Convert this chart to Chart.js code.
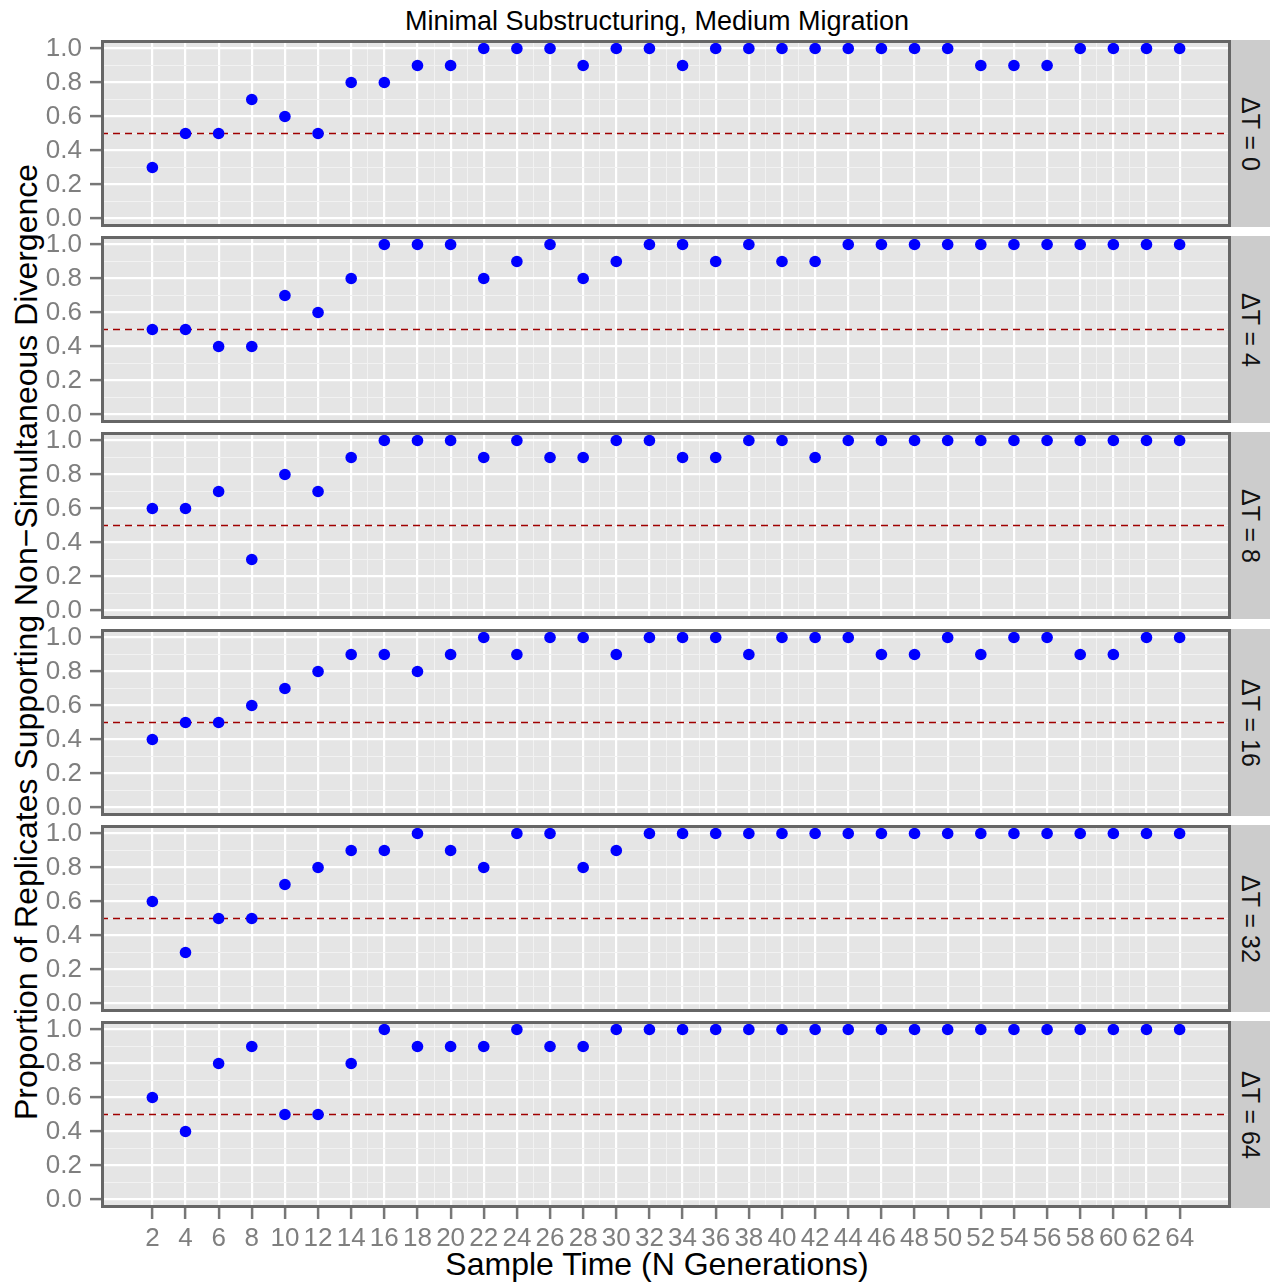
<!DOCTYPE html>
<html>
<head>
<meta charset="utf-8">
<title>Minimal Substructuring, Medium Migration</title>
<script src="https://cdn.jsdelivr.net/npm/chart.js@4.4.1/dist/chart.umd.min.js"></script>
<style>
  body { margin: 0; background: #fff; }
  #page { position: relative; width: 1274px; height: 1288px; overflow: hidden;
          font-family: "Liberation Sans", Arial, sans-serif; color: #000; }
  #page canvas { position: absolute; left: 0; }
  .txt { position: absolute; white-space: nowrap; text-align: center; }
  .strip { position: absolute; left: 1231px; width: 39px; background: #cccccc;
           display: flex; align-items: center; justify-content: center; }
  .strip span { writing-mode: vertical-rl; font-size: 25px; white-space: nowrap; color: #111; }
</style>
</head>
<body>
<div id="page">
  <div class="txt" id="title" style="left:357px; width:600px; top:8px; font-size:27px; line-height:27px;">Minimal Substructuring, Medium Migration</div>
  <div class="txt" id="xtitle" style="left:357px; width:600px; top:1248px; font-size:32px; line-height:32px;">Sample Time (N Generations)</div>
  <div class="txt" id="ytitle" style="left:-524px; width:1100px; top:626px; font-size:32px; line-height:32px; transform:rotate(-90deg);">Proportion of Replicates Supporting Non−Simultaneous Divergence</div>
</div>
<script>
// sample times on the x axis, one facet per delta T
const sampleTimes = [2, 4, 6, 8, 10, 12, 14, 16, 18, 20, 22, 24, 26, 28, 30, 32,
                     34, 36, 38, 40, 42, 44, 46, 48, 50, 52, 54, 56, 58, 60, 62, 64];
const deltaT = [0, 4, 8, 16, 32, 64];

// proportion of replicates supporting non-simultaneous divergence
const propDT0  = [0.3, 0.5, 0.5, 0.7, 0.6, 0.5, 0.8, 0.8, 0.9, 0.9, 1.0, 1.0, 1.0, 0.9, 1.0, 1.0,
                  0.9, 1.0, 1.0, 1.0, 1.0, 1.0, 1.0, 1.0, 1.0, 0.9, 0.9, 0.9, 1.0, 1.0, 1.0, 1.0];
const propDT4  = [0.5, 0.5, 0.4, 0.4, 0.7, 0.6, 0.8, 1.0, 1.0, 1.0, 0.8, 0.9, 1.0, 0.8, 0.9, 1.0,
                  1.0, 0.9, 1.0, 0.9, 0.9, 1.0, 1.0, 1.0, 1.0, 1.0, 1.0, 1.0, 1.0, 1.0, 1.0, 1.0];
const propDT8  = [0.6, 0.6, 0.7, 0.3, 0.8, 0.7, 0.9, 1.0, 1.0, 1.0, 0.9, 1.0, 0.9, 0.9, 1.0, 1.0,
                  0.9, 0.9, 1.0, 1.0, 0.9, 1.0, 1.0, 1.0, 1.0, 1.0, 1.0, 1.0, 1.0, 1.0, 1.0, 1.0];
const propDT16 = [0.4, 0.5, 0.5, 0.6, 0.7, 0.8, 0.9, 0.9, 0.8, 0.9, 1.0, 0.9, 1.0, 1.0, 0.9, 1.0,
                  1.0, 1.0, 0.9, 1.0, 1.0, 1.0, 0.9, 0.9, 1.0, 0.9, 1.0, 1.0, 0.9, 0.9, 1.0, 1.0];
const propDT32 = [0.6, 0.3, 0.5, 0.5, 0.7, 0.8, 0.9, 0.9, 1.0, 0.9, 0.8, 1.0, 1.0, 0.8, 0.9, 1.0,
                  1.0, 1.0, 1.0, 1.0, 1.0, 1.0, 1.0, 1.0, 1.0, 1.0, 1.0, 1.0, 1.0, 1.0, 1.0, 1.0];
const propDT64 = [0.6, 0.4, 0.8, 0.9, 0.5, 0.5, 0.8, 1.0, 0.9, 0.9, 0.9, 1.0, 0.9, 0.9, 1.0, 1.0,
                  1.0, 1.0, 1.0, 1.0, 1.0, 1.0, 1.0, 1.0, 1.0, 1.0, 1.0, 1.0, 1.0, 1.0, 1.0, 1.0];
const series = [propDT0, propDT4, propDT8, propDT16, propDT32, propDT64];

// axis breaks
const yTicks = [0.0, 0.2, 0.4, 0.6, 0.8, 1.0];
const yMinor = [0.1, 0.3, 0.5, 0.7, 0.9];
const xMinor = [15, 19, 21, 25, 29, 33, 35, 39, 41, 59, 61];
const threshold = 0.5;

const FONT = '"Liberation Sans", Arial, sans-serif';
const AXIS_GREY = '#7f7f7f';
const PAD = 26;          // room above/below each panel for the end tick labels
const PANEL_H = 187;
const PANEL_PITCH = 196.2;

const isMinorX = new Set(xMinor);
const isMinorY = new Set(yMinor);

const panelDecor = {
  id: 'panelDecor',
  beforeDraw(chart) {
    const { ctx, chartArea: a } = chart;
    ctx.save();
    ctx.fillStyle = '#e5e5e5';
    ctx.fillRect(a.left, a.top, a.right - a.left, a.bottom - a.top);
    ctx.restore();
  },
  beforeDatasetsDraw(chart) {
    const { ctx, chartArea: a, scales } = chart;
    const py = scales.y.getPixelForValue(threshold);
    ctx.save();
    ctx.strokeStyle = '#a00000';
    ctx.lineWidth = 1.6;
    ctx.setLineDash([7, 5]);
    ctx.beginPath();
    ctx.moveTo(a.left, py);
    ctx.lineTo(a.right, py);
    ctx.stroke();
    ctx.restore();
  },
  afterDraw(chart) {
    const { ctx, chartArea: a } = chart;
    ctx.save();
    ctx.strokeStyle = '#666666';
    ctx.lineWidth = 3;
    ctx.strokeRect(a.left + 1.5, a.top + 1.5, a.right - a.left - 3, a.bottom - a.top - 3);
    ctx.restore();
  }
};

const page = document.getElementById('page');

deltaT.forEach((dt, i) => {
  const last = i === deltaT.length - 1;
  const panelTop = Math.round(40 + i * PANEL_PITCH);
  const height = PAD + PANEL_H + (last ? 45 : PAD);

  const canvas = document.createElement('canvas');
  canvas.width = 1274;
  canvas.height = height;
  canvas.style.top = (panelTop - PAD) + 'px';
  page.appendChild(canvas);

  const strip = document.createElement('div');
  strip.className = 'strip';
  strip.style.top = panelTop + 'px';
  strip.style.height = PANEL_H + 'px';
  strip.innerHTML = '<span>ΔT = ' + dt + '</span>';
  page.appendChild(strip);

  new Chart(canvas.getContext('2d'), {
    type: 'scatter',
    data: {
      datasets: [{
        data: sampleTimes.map((t, k) => ({ x: t, y: series[i][k] })),
        backgroundColor: '#0000ff',
        borderWidth: 0,
        pointRadius: 5.8,
        pointHoverRadius: 5.8
      }]
    },
    options: {
      responsive: false,
      animation: false,
      devicePixelRatio: 1,
      layout: { padding: { top: PAD, bottom: last ? 0 : PAD, left: 0, right: 43 } },
      plugins: { legend: { display: false }, tooltip: { enabled: false } },
      scales: {
        x: {
          type: 'linear',
          min: -1.1,
          max: 67.1,
          afterBuildTicks: axis => {
            axis.ticks = sampleTimes.concat(xMinor).sort((a, b) => a - b).map(v => ({ value: v }));
          },
          afterFit: axis => { axis.height = last ? 45 : 0; },
          border: { display: false },
          grid: {
            color: c => (c.tick && isMinorX.has(c.tick.value)) ? '#f2f2f2' : '#ffffff',
            lineWidth: c => (c.tick && isMinorX.has(c.tick.value)) ? 1 : 2.2,
            drawTicks: last,
            tickLength: 11,
            tickWidth: 2.5,
            tickColor: c => (c.tick && isMinorX.has(c.tick.value)) ? 'rgba(0,0,0,0)' : '#777777'
          },
          ticks: {
            display: last,
            autoSkip: false,
            maxRotation: 0,
            minRotation: 0,
            padding: 4,
            color: AXIS_GREY,
            font: { family: FONT, size: 26 },
            callback: v => isMinorX.has(v) ? '' : String(v)
          }
        },
        y: {
          min: -0.05,
          max: 1.05,
          afterBuildTicks: axis => {
            axis.ticks = yTicks.concat(yMinor).sort((a, b) => a - b).map(v => ({ value: v }));
          },
          afterFit: axis => { axis.width = 101; },
          border: { display: false },
          grid: {
            color: c => (c.tick && isMinorY.has(c.tick.value)) ? '#f2f2f2' : '#ffffff',
            lineWidth: c => (c.tick && isMinorY.has(c.tick.value)) ? 1 : 2.2,
            tickLength: 11,
            tickWidth: 2.5,
            tickColor: c => (c.tick && isMinorY.has(c.tick.value)) ? 'rgba(0,0,0,0)' : '#777777'
          },
          ticks: {
            autoSkip: false,
            padding: 8,
            color: AXIS_GREY,
            font: { family: FONT, size: 26 },
            callback: v => isMinorY.has(v) ? '' : v.toFixed(1)
          }
        }
      }
    },
    plugins: [panelDecor]
  });
});
</script>
</body>
</html>
